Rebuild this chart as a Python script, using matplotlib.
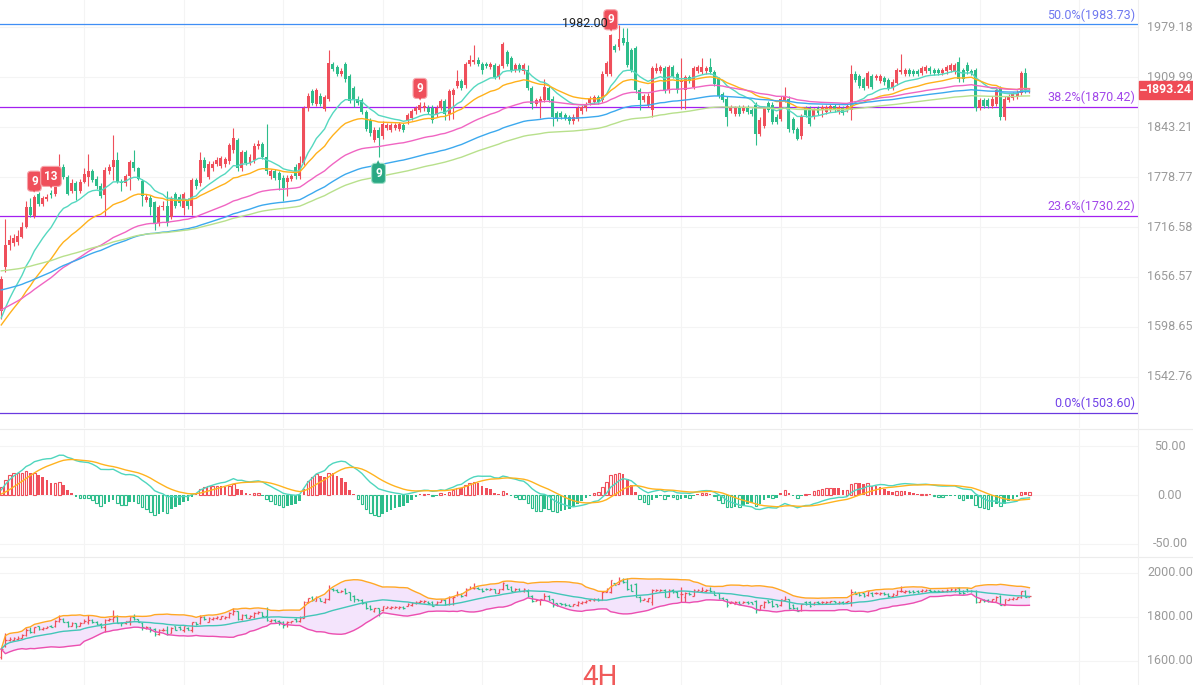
import numpy as np
import pandas as pd
import matplotlib
matplotlib.use("Agg")
import matplotlib.pyplot as plt
from matplotlib.ticker import NullLocator
from matplotlib.patches import Rectangle

plt.rcParams['font.family'] = ['Roboto', 'DejaVu Sans']

# ---------------- data (4H candles) ----------------
opens = [1617,1668,1695,1697,1699,1705,1717,1741,1730,1757,1745,1751,1759,1757,1781,1792,1779,1761,1771,1761,
         1773,1779,1786,1777,1768,1756,1786,1791,1800,1773,1771,1780,1798,1790,1774,1750,1753,1747,1721,1741,
         1743,1729,1757,1754,1740,1750,1742,1775,1771,1801,1779,1790,1796,1793,1795,1799,1813,1826,1790,1811,
         1797,1800,1818,1821,1805,1780,1786,1784,1778,1773,1777,1792,1780,1797,1868,1891,1874,1885,1867,1881,
         1928,1924,1915,1928,1912,1895,1881,1879,1863,1852,1827,1840,1831,1842,1840,1842,1841,1846,1851,1855,
         1864,1866,1868,1869,1869,1859,1869,1878,1861,1886,1898,1905,1899,1928,1931,1934,1928,1928,1924,1926,
         1910,1925,1945,1936,1920,1927,1918,1920,1895,1874,1876,1879,1895,1881,1862,1862,1859,1856,1851,1854,
         1864,1868,1875,1877,1883,1879,1915,1914,1953,1951,1964,1959,1947,1950,1892,1879,1873,1866,1919,1919,
         1922,1892,1924,1914,1904,1892,1910,1897,1919,1917,1918,1924,1917,1907,1887,1881,1865,1861,1870,1865,
         1870,1866,1873,1834,1845,1875,1873,1857,1854,1879,1881,1854,1841,1831,1868,1868,1857,1868,1866,1863,
         1866,1871,1863,1868,1866,1866,1915,1912,1907,1898,1911,1909,1905,1909,1906,1895,1902,1917,1914,1920,
         1918,1918,1916,1919,1922,1920,1920,1916,1918,1920,1918,1931,1920,1927,1918,1920,1868,1879,1879,1871,
         1874,1895,1856,1879,1882,1884,1889,1916,1892]
closes = [1654,1695,1701,1703,1706,1717,1741,1731,1754,1745,1752,1754,1756,1780,1792,1779,1758,1771,1761,1773,
          1783,1786,1775,1767,1755,1788,1792,1800,1773,1771,1780,1798,1790,1777,1755,1754,1741,1721,1741,1743,
          1721,1752,1743,1746,1757,1742,1775,1767,1801,1790,1796,1796,1801,1803,1802,1820,1829,1790,1811,1797,
          1805,1819,1821,1805,1786,1786,1778,1775,1765,1778,1780,1780,1797,1868,1885,1875,1893,1874,1883,1930,
          1921,1915,1918,1907,1878,1881,1875,1863,1841,1835,1840,1829,1848,1846,1846,1846,1847,1840,1859,1864,
          1868,1873,1871,1863,1852,1869,1878,1861,1891,1892,1905,1896,1928,1933,1934,1928,1920,1925,1928,1910,
          1925,1956,1928,1920,1927,1920,1927,1895,1874,1879,1881,1897,1879,1856,1854,1857,1855,1851,1857,1868,
          1870,1873,1881,1883,1877,1915,1929,1968,1947,1963,1957,1927,1920,1892,1879,1884,1885,1922,1922,1924,
          1892,1924,1912,1892,1906,1910,1905,1922,1924,1924,1922,1917,1901,1885,1879,1856,1870,1868,1861,1870,
          1863,1861,1834,1853,1868,1866,1850,1850,1881,1883,1841,1839,1828,1858,1859,1848,1866,1862,1870,1870,
          1871,1866,1870,1862,1871,1915,1906,1898,1896,1916,1897,1911,1911,1903,1895,1904,1920,1920,1920,1914,
          1914,1914,1922,1924,1918,1916,1916,1920,1924,1927,1927,1907,1907,1918,1916,1868,1879,1871,1871,1881,
          1893,1856,1881,1884,1887,1889,1916,1892,1893.24]
highs = [1658,1726,1707,1708,1713,1723,1749,1753,1756,1760,1755,1757,1762,1785,1808,1795,1781,1776,1774,1777,
         1790,1808,1789,1780,1771,1791,1795,1833,1811,1776,1783,1801,1814,1792,1777,1757,1756,1749,1744,1749,
         1761,1755,1760,1757,1760,1753,1778,1778,1811,1804,1799,1799,1804,1806,1805,1823,1842,1829,1814,1814,
         1808,1822,1826,1824,1847,1789,1789,1787,1781,1781,1783,1795,1806,1871,1888,1894,1896,1888,1886,1947,
         1931,1927,1922,1931,1915,1898,1884,1882,1866,1855,1843,1843,1851,1849,1849,1849,1850,1849,1862,1867,
         1871,1876,1876,1872,1872,1872,1881,1881,1894,1895,1920,1908,1931,1941,1955,1937,1931,1931,1931,1929,
         1928,1959,1948,1939,1930,1930,1930,1927,1898,1882,1884,1908,1898,1884,1865,1865,1862,1859,1860,1871,
         1873,1876,1884,1886,1886,1918,1932,1970,1956,1982,1978,1978,1950,1953,1895,1887,1888,1925,1929,1927,
         1925,1927,1927,1917,1936,1913,1913,1925,1927,1936,1925,1936,1920,1910,1890,1884,1873,1871,1873,1873,
         1873,1869,1876,1856,1871,1878,1876,1860,1884,1897,1884,1857,1844,1861,1871,1871,1869,1871,1873,1873,
         1874,1874,1873,1871,1874,1926,1918,1915,1910,1919,1914,1914,1914,1912,1909,1907,1923,1942,1923,1923,
         1921,1921,1925,1927,1925,1923,1923,1923,1927,1930,1930,1938,1923,1931,1921,1923,1882,1882,1882,1884,
         1896,1898,1884,1887,1890,1892,1919,1922,1896]
lows = [1608,1662,1689,1693,1695,1703,1715,1729,1728,1742,1743,1749,1753,1755,1779,1776,1756,1759,1750,1759,
        1771,1768,1772,1764,1752,1730,1783,1775,1771,1761,1768,1763,1787,1775,1742,1747,1731,1713,1718,1737,
        1718,1727,1740,1743,1731,1739,1731,1764,1768,1787,1776,1787,1793,1790,1792,1796,1810,1787,1787,1794,
        1794,1797,1815,1802,1783,1777,1775,1763,1749,1755,1774,1777,1777,1794,1865,1872,1871,1871,1864,1878,
        1918,1912,1912,1904,1875,1870,1872,1860,1838,1832,1824,1804,1828,1839,1837,1839,1838,1837,1848,1852,
        1861,1863,1865,1860,1849,1856,1866,1853,1853,1854,1895,1893,1896,1925,1928,1925,1914,1922,1921,1907,
        1907,1922,1925,1917,1917,1917,1915,1892,1867,1871,1855,1876,1876,1845,1851,1854,1852,1848,1848,1851,
        1861,1865,1872,1874,1874,1876,1912,1911,1944,1948,1954,1924,1917,1889,1866,1876,1870,1856,1916,1916,
        1889,1889,1909,1889,1867,1867,1902,1894,1916,1914,1915,1914,1898,1882,1876,1845,1862,1858,1858,1862,
        1860,1858,1820,1831,1842,1863,1847,1847,1851,1876,1837,1836,1826,1828,1856,1845,1854,1859,1857,1860,
        1863,1863,1860,1859,1863,1852,1903,1895,1893,1895,1894,1906,1902,1900,1892,1892,1899,1914,1911,1911,
        1911,1911,1913,1916,1915,1913,1913,1913,1915,1917,1915,1904,1904,1915,1913,1865,1866,1868,1868,1868,
        1871,1853,1853,1876,1879,1881,1886,1889,1889]

# moving-average settings and their starting levels read at the left edge
ma_spans = [14, 28, 60, 90, 120]
ma_start = [1602, 1597, 1617, 1641, 1664]
# MACD starting levels (EMA12, EMA26, DEA) read at the left edge
macd_start = [1612, 1610, 0.0]

fib_levels = [1983.73, 1870.42, 1730.22, 1503.60]
fib_names = ['50.0%', '38.2%', '23.6%', '0.0%']
price_ticks = [1979.18, 1909.99, 1843.21, 1778.77, 1716.58, 1656.57, 1598.65, 1542.76]
macd_ticks = [50.0, 0.0, -50.0]
boll_ticks = [2000.0, 1800.0, 1600.0]
td_index = [8, 12, 101, 147]
td_text = ['9', '13', '9', '9']
td_low_index = [91]
td_low_text = ['9']
peak_label = '1982.00'
last_price = 1893.24

# ---------------- styling ----------------
RED = '#ef4f5b'
GREEN = '#2dbd8b'
MA_COLORS = ['#55d8c0', '#ffb11b', '#f065c2', '#3ca9ee', '#b8e08c']
GRID = '#f4f4f4'
LABEL = '#9a9a9a'

W, H = 1193, 685
fig = plt.figure(figsize=(W / 100, H / 100), dpi=100)
fig.patch.set_facecolor('white')

def rect(x0, y0, x1, y1):
    return [x0 / W, 1 - y1 / H, (x1 - x0) / W, (y1 - y0) / H]

AX_R = 1138
ax1 = fig.add_axes(rect(0, 0, AX_R, 428))
ax2 = fig.add_axes(rect(0, 430, AX_R, 557))
ax3 = fig.add_axes(rect(0, 557, AX_R, 685))

o = np.array(opens, float); c = np.array(closes, float)
h = np.array(highs, float); l = np.array(lows, float)
N = len(c)
x = np.arange(N)
up = c >= o
colors = np.where(up, RED, GREEN)

def ema_seeded(vals, span, seed):
    a = 2.0 / (span + 1)
    out = []
    e = seed
    for v in vals:
        e = e + a * (v - e)
        out.append(e)
    return np.array(out)

xmin = -0.3
xmax = xmin + AX_R / 4.146
for ax in (ax1, ax2, ax3):
    ax.set_xlim(xmin, xmax)
    for s in ax.spines.values():
        s.set_visible(False)
    ax.set_xticks([])
    ax.yaxis.set_major_locator(NullLocator())
    ax.yaxis.set_minor_locator(NullLocator())
    ax.set_facecolor('none')
    for gx in range(20, 275, 24):
        ax.axvline(gx, color=GRID, lw=0.8, zorder=0)

# ---------------- main price panel ----------------
ax1.set_yscale('log')
ax1.set_ylim(1487.6, 2018.0)
ax1.yaxis.set_major_locator(NullLocator())
ax1.yaxis.set_minor_locator(NullLocator())
for t in price_ticks:
    ax1.axhline(t, color=GRID, lw=0.8, zorder=0)
    ax1.text(1170 / AX_R, t, f'{t:.2f}', transform=ax1.get_yaxis_transform(),
             ha='center', va='center', fontsize=9, color=LABEL, clip_on=False)

fib_line_c = ['#3f8ef5', '#a31ff0', '#a31ff0', '#6a3ae0']
fib_text_c = ['#6f78f0', '#a247ea', '#a247ea', '#7040e8']
for lv, nm, lc, tc in zip(fib_levels, fib_names, fib_line_c, fib_text_c):
    ax1.axhline(lv, color=lc, lw=0.9, zorder=2)
    ax1.annotate(f'{nm}({lv:.2f})', xy=(1135 / AX_R, lv), xycoords=ax1.get_yaxis_transform(),
                 xytext=(0, 2.5), textcoords='offset pixels', ha='right', va='bottom',
                 fontsize=9, color=tc)

ax1.vlines(x, l, h, colors=colors, lw=0.8, zorder=3)
body_lo = np.minimum(o, c)
body_h = np.maximum(np.abs(c - o), 1.2)
ax1.bar(x, body_h, bottom=body_lo, width=0.72, color=colors, zorder=4, linewidth=0)

for span, seed, col in zip(ma_spans, ma_start, MA_COLORS):
    ax1.plot(x, ema_seeded(c, span, seed), color=col, lw=1.0, zorder=5)

for i, t in zip(td_index, td_text):
    ax1.annotate(t, xy=(i, h[i]), xytext=(0, 14), textcoords='offset pixels',
                 ha='center', va='center', fontsize=8.5, color='white', fontweight='bold',
                 bbox=dict(boxstyle='round,pad=0.3', fc=RED, ec='#f7a5ab', lw=0.8), zorder=7)
    ax1.annotate('▼', xy=(i, h[i]), xytext=(0, 4), textcoords='offset pixels',
                 ha='center', va='center', fontsize=4, color=RED, zorder=7,
                 family=['DejaVu Sans'])
for i, t in zip(td_low_index, td_low_text):
    ax1.annotate(t, xy=(i, l[i]), xytext=(0, -16), textcoords='offset pixels',
                 ha='center', va='center', fontsize=8.5, color='white', fontweight='bold',
                 bbox=dict(boxstyle='round,pad=0.3', fc='#2aa883', ec='#9fe0c8', lw=0.8), zorder=7)
    ax1.annotate('▲', xy=(i, l[i]), xytext=(0, -5), textcoords='offset pixels',
                 ha='center', va='center', fontsize=4, color='#2aa883', zorder=7,
                 family=['DejaVu Sans'])

ipk = int(np.argmax(h))
ax1.text(ipk - 2.6, 1984.5, peak_label, ha='right', va='center', fontsize=9, color='#222222', zorder=8)

# ---------------- MACD panel ----------------
ax2.set_ylim(-63.9, 67.0)
for t in macd_ticks:
    ax2.axhline(t, color=GRID, lw=0.8, zorder=0)
    ax2.text(1170 / AX_R, t, f'{t:.2f}', transform=ax2.get_yaxis_transform(),
             ha='center', va='center', fontsize=9, color=LABEL, clip_on=False)
e12 = ema_seeded(c, 12, macd_start[0])
e26 = ema_seeded(c, 26, macd_start[1])
dif = e12 - e26
dea = ema_seeded(dif, 9, macd_start[2])
hist = 2 * (dif - dea)
prev = np.concatenate([[0.0], hist[:-1]])
growing = np.abs(hist) >= np.abs(prev)
for i in range(N):
    col = RED if hist[i] >= 0 else GREEN
    hv = hist[i] if abs(hist[i]) > 0.9 else (0.9 if hist[i] >= 0 else -0.9)
    if growing[i]:
        ax2.bar(i, hv, width=0.62, facecolor='white', edgecolor=col, linewidth=0.8, zorder=3)
    else:
        ax2.bar(i, hv, width=0.62, color=col, linewidth=0, zorder=3)
ax2.plot(x, dif, color='#4fd6be', lw=1.0, zorder=4)
ax2.plot(x, dea, color='#ffb31f', lw=1.0, zorder=4)

# ---------------- BOLL panel ----------------
ax3.set_ylim(1490.9, 2072.7)
for t in boll_ticks:
    ax3.axhline(t, color=GRID, lw=0.8, zorder=0)
    ax3.text(1170 / AX_R, t, f'{t:.2f}', transform=ax3.get_yaxis_transform(),
             ha='center', va='center', fontsize=9, color=LABEL, clip_on=False)
s = pd.Series(c)
mid = s.rolling(20, min_periods=1).mean().values
sd = s.rolling(20, min_periods=1).std(ddof=0).values
ub = mid + 2 * sd
lb = mid - 2 * sd
ax3.fill_between(x, lb, ub, color='#f4e4fc', zorder=1, linewidth=0)
ax3.plot(x, ub, color='#ffa726', lw=1.0, zorder=4)
ax3.plot(x, mid, color='#43c6b8', lw=1.0, zorder=4)
ax3.plot(x, lb, color='#ec4fb0', lw=1.0, zorder=4)
ax3.vlines(x, l, h, colors=colors, lw=0.9, zorder=3)
ax3.hlines(o, x - 0.38, x, colors=colors, lw=0.9, zorder=3)
ax3.hlines(c, x, x + 0.38, colors=colors, lw=0.9, zorder=3)

# ---------------- frame lines, last price tag, watermark ----------------
for yy in (429, 557):
    fig.add_artist(plt.Line2D([0, 1], [1 - yy / H, 1 - yy / H], color='#ececec', lw=0.8,
                              transform=fig.transFigure))
fig.add_artist(plt.Line2D([AX_R / W, AX_R / W], [0, 1], color='#f0f0f0', lw=0.8,
                          transform=fig.transFigure))

fig.canvas.draw()
py = ax1.transData.transform((0, last_price))[1]  # pixel from bottom
box_h = 18
fig.add_artist(Rectangle((1139 / W, (py - box_h / 2) / H), 54 / W, box_h / H,
                         transform=fig.transFigure, color='#ef4b55', zorder=10))
fig.add_artist(plt.Line2D([1141 / W, 1146 / W], [py / H, py / H], color='white', lw=1.2,
                          transform=fig.transFigure, zorder=11))
fig.text(1169 / W, py / H, f'{last_price:.2f}', color='white', fontsize=8.8, ha='center',
         va='center', fontweight='bold', zorder=11)

fig.text(600 / W, 0.0, '4H', color='#f05a5a', fontsize=20, ha='center', va='baseline')

fig.savefig('out.png', dpi=100, facecolor='white')
